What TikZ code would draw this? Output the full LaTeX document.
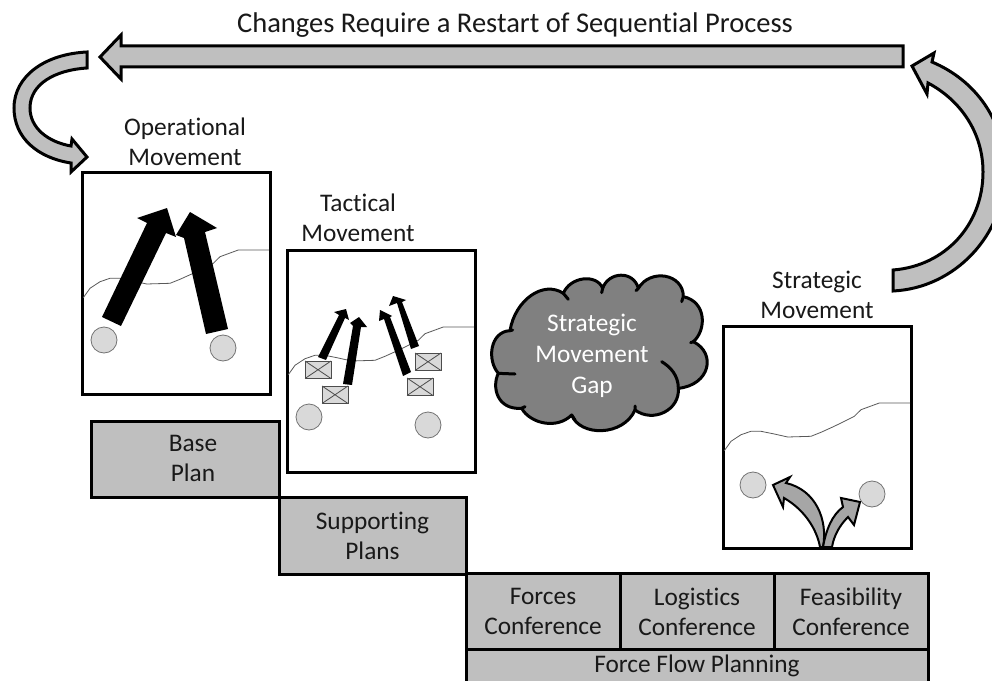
\documentclass[tikz,border=0pt]{standalone}
\usepackage{fontspec}
\setmainfont[Ligatures=CommonOff]{Carlito}
\colorlet{blockgray}{black!25}
\colorlet{cloudgray}{black!50}
\colorlet{lightgray2}{black!15}
\colorlet{stratgray}{black!35}
\tikzset{
  lbl/.style={align=center,font=\fontsize{19}{22.5}\selectfont,text=black!90,inner sep=0pt},
  framebox/.style={draw=black,line width=2.25pt,fill=white,line join=miter},
  planbox/.style={lbl,draw=black,line width=2.25pt,fill=blockgray,anchor=center,outer sep=0pt},
  blockarrow/.style={draw=black,line width=2.25pt,fill=blockgray,line join=miter},
  terrain/.style={draw=black!65,line width=0.6pt},
  town/.style={circle,draw=black!55,line width=0.6pt,fill=lightgray2,minimum size=19.5pt,inner sep=0pt},
  unit/.style={draw=black!70,line width=0.6pt,fill=lightgray2},
  blackarrow/.style={fill=black,draw=none},
  stratarrow/.style={draw=black,line width=1.5pt,fill=stratgray,line join=miter},
}
\newcommand{\terrainline}[2]{%
  \draw[terrain,shift={(#1,#2)}] (83.3,297.7) -- (90,288.3) -- (100,281.7) -- (110,278.3) -- (120,278.3) -- (133.3,281) -- (146.7,284) -- (170,283.3) -- (180,279.3) -- (191.7,274) -- (200,270) -- (213.3,263.3) -- (220,256.7) -- (238.3,250) -- (269,250);}
\newcommand{\unitbox}[2]{%
  \draw[unit] (#1,#2) rectangle ++(26,17.5);
  \draw[unit] (#1,#2) -- ++(26,17.5) (#1,#2) ++(26,0) -- ++(-26,17.5);}
\begin{document}
\begin{tikzpicture}[x=0.75pt,y=-0.75pt]
\useasboundingbox (0,0) rectangle (992,681);
\clip (0,0) rectangle (992,681);
\fill[white] (0,0) rectangle (992,681);
% title
\node[lbl,font=\fontsize{21.4}{24}\selectfont] (title) at (515,25) {Changes Require a Restart of Sequential Process};
% top arrow
\draw[blockarrow] (903,46) -- (903,67) -- (121,67) -- (121,79) -- (100,57) -- (121,35) -- (121,46) -- cycle;
% left curved arrow
\draw[blockarrow] (87,52) -- (87,68) .. controls (55,70) and (30,84) .. (30,108)
  .. controls (30,128) and (48,142) .. (71,146) -- (72,139) -- (87,157) -- (71,172) -- (71,163)
  .. controls (38,158) and (14,138) .. (14,108) .. controls (14,76) and (45,54) .. (87,52) -- cycle;
% right curved arrow
\draw[blockarrow] (893,270) -- (893,291) .. controls (955,288) and (1005,235) .. (1005,172)
  .. controls (1005,120) and (975,80) .. (932,62) -- (934,53) -- (912,66) -- (927,94) -- (928,83)
  .. controls (960,100) and (983,132) .. (983,172) .. controls (983,225) and (945,266) .. (893,270) -- cycle;
% frames
\draw[framebox] (82,173) rectangle (270,394);
\draw[framebox] (287,250) rectangle (475,472);
\draw[framebox] (723,326) rectangle (911,548);
\node[lbl] (opl) at (185,141.5) {Operational\\Movement};
\node[lbl] (tacl) at (358,218) {Tactical\\Movement};
\node[lbl] (strl) at (817,295) {Strategic\\Movement};
% terrain
\terrainline{0}{0}
\terrainline{205}{77}
\terrainline{641}{153}
% operational
\node[town] (o1) at (104,340) {};
\node[town] (o2) at (223,348) {};
\fill[blackarrow] (102,317) -- (147,223) -- (137,218) -- (167,208) -- (176,237) -- (166,233) -- (121,326) -- cycle;
\fill[blackarrow] (206,334) -- (184,238) -- (176,235) -- (190,212) -- (217,228) -- (205,232) -- (228,329) -- cycle;
% tactical
\node[town] (t1) at (309,417) {};
\node[town] (t2) at (428,425) {};
\unitbox{305}{361}
\unitbox{322}{386}
\unitbox{407}{378}
\unitbox{415}{353}
\fill[blackarrow] (318,357) -- (339,315) -- (334,312) -- (346,309) -- (349,320) -- (345,318) -- (326,360) -- cycle;
\fill[blackarrow] (343,384) -- (353,326) -- (350,323) -- (359,317) -- (367,327) -- (361,327) -- (352,385) -- cycle;
\fill[blackarrow] (403,376) -- (384,319) -- (379,321) -- (380,310) -- (392,316) -- (390,317) -- (411,372) -- cycle;
\fill[blackarrow] (411,349) -- (397,303) -- (389,306) -- (393,296) -- (406,300) -- (402,302) -- (419,346) -- cycle;
% cloud
\begin{scope}[shift={(480,260)},x=0.25pt,y=-0.25pt]
\draw[draw=black,line width=2.25pt,fill=cloudgray,line join=round]
  (90,212) .. controls (105,120) and (190,60) .. (250,100)
  .. controls (270,50) and (350,40) .. (368,85)
  .. controls (385,35) and (460,30) .. (475,85)
  .. controls (510,25) and (610,40) .. (610,110)
  .. controls (680,125) and (680,210) .. (640,245)
  .. controls (710,280) and (690,375) .. (595,385)
  .. controls (600,450) and (520,490) .. (465,450)
  .. controls (430,530) and (300,530) .. (275,465)
  .. controls (230,510) and (150,490) .. (125,445)
  .. controls (50,450) and (35,380) .. (55,340)
  .. controls (20,300) and (30,215) .. (90,212) -- cycle;
\draw[line width=2.25pt,line cap=round]
  (90,212) -- (98,210)
  (250,100) -- (265,118)
  (368,85) -- (365,98)
  (475,85) -- (468,92)
  (610,110) -- (605,125)
  (640,245) -- (632,248)
  (595,385) .. controls (595,345) and (570,320) .. (545,305)
  (465,450) -- (465,438)
  (275,465) -- (285,480)
  (125,445) -- (135,440)
  (55,340) -- (105,342);
\end{scope}
\node[lbl,text=white,font=\fontsize{19}{23.25}\selectfont] (gap) at (592,355.5) {Strategic\\Movement\\Gap};
% strategic
\node[town] (s1) at (753,485) {};
\node[town] (s2) at (872,494) {};
\draw[stratarrow] (820,547) .. controls (817,530) and (805,510) .. (784,498) -- (783,507) -- (773,485) -- (790,477) -- (786,483)
  .. controls (816,490) and (828,520) .. (823,547) -- cycle;
\draw[stratarrow] (823,547) .. controls (826,530) and (832,515) .. (843,507) -- (841,498) -- (860,502) -- (854,525) -- (848,517)
  .. controls (840,525) and (834,535) .. (832,547) -- cycle;
\draw[line width=2.25pt] (723,548) -- (911,548);
% plan boxes
\node[planbox,minimum width=141pt,minimum height=57pt] (base) at (185,459) {};
\node[lbl] (basel) at (193,458) {Base\\Plan};
\node[planbox,minimum width=140.25pt,minimum height=57.75pt] (supp) at (372.5,535.5) {Supporting\\Plans};
\node[planbox,minimum width=115.5pt,minimum height=57pt] (forces) at (543,611.5) {Forces\\Conference};
\node[planbox,minimum width=115.5pt,minimum height=57pt] (logi) at (697,611.5) {Logistics\\Conference};
\node[planbox,minimum width=115.5pt,minimum height=57pt] (feas) at (851,611.5) {Feasibility\\Conference};
\node[planbox,minimum width=346.5pt,minimum height=30pt,anchor=north] (flow) at (697,649.5) {};
\node[lbl] (flowl) at (697,666) {Force Flow Planning};
\end{tikzpicture}
\end{document}
